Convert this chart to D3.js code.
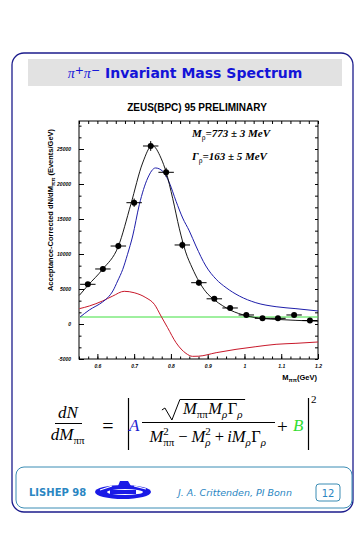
<!DOCTYPE html>
<html><head><meta charset="utf-8">
<script src="https://cdn.jsdelivr.net/npm/d3@7"></script>
<style>body{margin:0;background:#fff}svg{display:block}</style>
</head><body><svg id="c" width="363" height="535"></svg>
<script>
// ---------- data ----------
const massCenters   = [0.574,0.615,0.657,0.700,0.745,0.787,0.831,0.876,0.918,0.961,1.005,1.049,1.091,1.135,1.178];
const massHalfWidth = [0.021,0.021,0.021,0.021,0.021,0.021,0.021,0.021,0.021,0.021,0.021,0.021,0.021,0.021,0.021];
const events        = [5670,7860,11140,17330,25430,21670,11290,5900,3600,2290,1290,810,810,1290,500];
const eventErrors   = [300,350,450,600,700,650,550,400,300,250,220,220,220,250,250];

const fitMass   = [0.551,0.574,0.614,0.657,0.691,0.723,0.749,0.773,0.787,0.805,0.823,0.840,0.858,0.876,0.895,0.918,0.941,0.963,1.004,1.050,1.095,1.140,1.200];
const fitValues = [4100,5500,7800,11100,17100,23000,25500,23700,21700,17900,13600,10300,8000,6100,4600,3450,2600,1950,1200,780,640,520,400];

const resMass   = [0.553,0.578,0.614,0.628,0.642,0.655,0.669,0.682,0.696,0.714,0.737,0.758,0.778,0.796,0.814,0.832,0.850,0.868,0.895,0.923,0.950,0.986,1.031,1.086,1.140,1.200];
const resValues = [1000,2000,3140,3760,4710,6140,7810,9960,12570,17040,20860,22290,21810,20140,17530,15140,13300,11140,8290,6390,5190,4000,3040,2470,2190,1860];

const intMass   = [0.551,0.578,0.614,0.642,0.673,0.700,0.732,0.755,0.773,0.791,0.814,0.841,0.859,0.875,0.923,0.977,1.031,1.086,1.140,1.200];
const intValues = [2190,2570,3290,4000,4670,4470,3760,2810,1140,-530,-2670,-4200,-4620,-4600,-4100,-3620,-3240,-2900,-2760,-2570];

const bkgMass   = [0.553,1.200];
const bkgValues = [1000,1000];

const yMajor = [-5000,0,5000,10000,15000,20000,25000];
const yMajorLabels = ["-5000","0","5000","10000","15000","20000","25000"];
const xMajor = [0.6,0.7,0.8,0.9,1.0,1.1,1.2];
const xMajorLabels = ["0.6","0.7","0.8","0.9","1","1.1","1.2"];

// ---------- drawing ----------
const svg = d3.select("#c");
const NAVY = "#1c1c8c", TEAL = "#3a8cb4", FOOT = "#2a86c2";

// outer frame
svg.append("rect").attr("x",12).attr("y",53).attr("width",341).attr("height",459)
  .attr("rx",12).attr("fill","none").attr("stroke",NAVY).attr("stroke-width",1.3);

// title bar
svg.append("rect").attr("x",28).attr("y",59).attr("width",314).attr("height",27).attr("fill","#e2e2e2");
const tt = svg.append("text").attr("x",185).attr("y",78).attr("text-anchor","middle")
  .attr("fill","#1414d8").attr("font-family","'DejaVu Sans',Verdana,sans-serif").attr("font-weight","bold").attr("font-size",14);
tt.append("tspan").attr("font-family","'Liberation Serif',serif").attr("font-style","italic").attr("font-weight","normal").attr("font-size",14).text("π");
tt.append("tspan").attr("dy",-4).attr("font-size",11).attr("font-weight","normal").text("+");
tt.append("tspan").attr("dy",4).attr("font-family","'Liberation Serif',serif").attr("font-style","italic").attr("font-weight","normal").attr("font-size",14).text("π");
tt.append("tspan").attr("dy",-4).attr("font-size",11).attr("font-weight","normal").text("−");
tt.append("tspan").attr("dy",4).text(" Invariant Mass Spectrum");

// chart title
svg.append("text").attr("x",197).attr("y",111).attr("text-anchor","middle")
  .attr("font-family","'Liberation Sans',Arial,sans-serif").attr("font-weight","bold").attr("font-size",10)
  .text("ZEUS(BPC) 95 PRELIMINARY");

// scales
const x = d3.scaleLinear().domain([0.55,1.2]).range([79,318]);
const y = d3.scaleLinear().domain([-5000,29000]).range([359,121]);

const plot = svg.append("g");
plot.append("rect").attr("x",79).attr("y",121).attr("width",239).attr("height",238)
  .attr("fill","none").attr("stroke","#000").attr("stroke-width",1);

const minorY = d3.range(-5000, 29000, 5000/3);
const minorX = d3.range(0.55, 1.2001, 0.025);

function axisG(axis, tx, ty){
  const g = plot.append("g").attr("transform",`translate(${tx},${ty})`).call(axis);
  g.select(".domain").remove();
  g.selectAll("line").attr("stroke","#000");
  return g;
}
// left
const gl = axisG(d3.axisLeft(y).tickValues(yMajor).tickSizeInner(-5).tickSizeOuter(0).tickPadding(8)
  .tickFormat((d,i)=>yMajorLabels[i]), 79, 0);
gl.selectAll("text").attr("font-size",5).attr("font-weight","bold").attr("font-style","italic")
  .attr("font-family","'Liberation Sans',Arial,sans-serif");
axisG(d3.axisLeft(y).tickValues(minorY).tickSizeInner(-2.5).tickSizeOuter(0).tickFormat(""), 79, 0);
// right
axisG(d3.axisRight(y).tickValues(minorY).tickSizeInner(-3).tickSizeOuter(0).tickFormat(""), 318, 0);
// bottom
const gb = axisG(d3.axisBottom(x).tickValues(xMajor).tickSizeInner(-5).tickSizeOuter(0).tickPadding(5)
  .tickFormat((d,i)=>xMajorLabels[i]), 0, 359);
gb.selectAll("text").attr("font-size",5).attr("font-weight","bold").attr("font-style","italic")
  .attr("font-family","'Liberation Sans',Arial,sans-serif");
axisG(d3.axisBottom(x).tickValues(minorX).tickSizeInner(-2.5).tickSizeOuter(0).tickFormat(""), 0, 359);
// top
axisG(d3.axisTop(x).tickValues(minorX).tickSizeInner(-3).tickSizeOuter(0).tickFormat(""), 0, 121);

// curves
const line = d3.line().x(d=>x(d[0])).y(d=>y(d[1])).curve(d3.curveMonotoneX);
function drawCurve(ms, vs, color, w){
  plot.append("path").datum(ms.map((m,i)=>[m,vs[i]])).attr("d",line)
    .attr("fill","none").attr("stroke",color).attr("stroke-width",w);
}
drawCurve(bkgMass, bkgValues, "#3ee03e", 1);
drawCurve(intMass, intValues, "#c8182a", 1);
drawCurve(resMass, resValues, "#1e1eaa", 1);
drawCurve(fitMass, fitValues, "#000", 0.9);

// data points
const pts = plot.append("g");
massCenters.forEach((m,i)=>{
  pts.append("line").attr("x1",x(m-massHalfWidth[i])).attr("x2",x(m+massHalfWidth[i]))
    .attr("y1",y(events[i])).attr("y2",y(events[i])).attr("stroke","#000").attr("stroke-width",1);
  pts.append("line").attr("x1",x(m)).attr("x2",x(m))
    .attr("y1",y(events[i]-eventErrors[i])).attr("y2",y(events[i]+eventErrors[i])).attr("stroke","#000").attr("stroke-width",1);
  pts.append("circle").attr("cx",x(m)).attr("cy",y(events[i])).attr("r",3).attr("fill","#000");
});

// annotations
function annot(yb, sym, rest){
  const t = svg.append("text").attr("x",192).attr("y",yb)
    .attr("font-family","'Liberation Serif','Times New Roman',serif").attr("font-style","italic")
    .attr("font-weight","bold").attr("font-size",11);
  t.append("tspan").text(sym);
  t.append("tspan").attr("dy",3).attr("font-size",7.5).attr("font-style","normal").attr("font-weight","normal").text("ρ");
  t.append("tspan").attr("dy",-3).text(rest);
}
annot(137, "M", "=773 ± 3 MeV");
annot(160, "Γ", "=163 ± 5 MeV");

// axis labels
const yl = svg.append("text").attr("transform","translate(53,210) rotate(-90)").attr("text-anchor","middle")
  .attr("font-family","'Liberation Sans',Arial,sans-serif").attr("font-weight","bold").attr("font-size",7.5);
yl.append("tspan").text("Acceptance-Corrected dN/dM");
yl.append("tspan").attr("dy",2).attr("font-size",5.5).text("ππ");
yl.append("tspan").attr("dy",-2).text("  (Events/GeV)");
const xl = svg.append("text").attr("x",317).attr("y",380).attr("text-anchor","end")
  .attr("font-family","'Liberation Sans',Arial,sans-serif").attr("font-weight","bold").attr("font-size",7.5);
xl.append("tspan").text("M");
xl.append("tspan").attr("dy",2).attr("font-size",5.5).text("ππ");
xl.append("tspan").attr("dy",-2).text("(GeV)");

// ---------- equation ----------
const eq = svg.append("g").attr("font-family","'Liberation Serif','Times New Roman',serif");
const MAIN = 16.5, SUB = 11;
function row(g, x0, base, pieces){
  let cx = x0;
  pieces.forEach(p=>{
    if(p.sup!==undefined || p.sub!==undefined){
      let w = 0;
      if(p.sup!==undefined){
        const t = g.append("text").attr("x",cx).attr("y",base-7).attr("font-size",SUB).text(p.sup);
        w = Math.max(w, t.node().getComputedTextLength());
      }
      if(p.sub!==undefined){
        const t = g.append("text").attr("x",cx).attr("y",base+3.5).attr("font-size",SUB)
          .attr("font-style",p.subItalic?"italic":"normal").text(p.sub);
        w = Math.max(w, t.node().getComputedTextLength());
      }
      cx += w + (p.gap||0.5);
    } else {
      const t = g.append("text").attr("x",cx).attr("y",base+(p.dy||0)).attr("font-size",p.size||MAIN)
        .attr("font-style",p.italic?"italic":"normal").attr("font-weight",p.bold?"bold":"normal")
        .attr("fill",p.fill||"#000").text(p.t);
      cx += t.node().getComputedTextLength() + (p.gap||0);
    }
  });
  return cx - x0;
}
function centered(xc, base, pieces){
  const g = eq.append("g");
  const w = row(g, 0, base, pieces);
  g.attr("transform",`translate(${xc - w/2},0)`);
  return w;
}
// dN / dMππ
centered(68, 418, [{t:"dN", italic:true, size:17}]);
eq.append("line").attr("x1",55).attr("x2",82).attr("y1",423.5).attr("y2",423.5).attr("stroke","#000").attr("stroke-width",1);
centered(68, 440, [{t:"dM", italic:true, size:17},{sub:"ππ"}]);
eq.append("text").attr("x",108).attr("y",433).attr("text-anchor","middle").attr("font-size",20).text("=");
// absolute bars
eq.append("line").attr("x1",128.5).attr("x2",128.5).attr("y1",398).attr("y2",450).attr("stroke","#000").attr("stroke-width",1.2);
eq.append("line").attr("x1",308.5).attr("x2",308.5).attr("y1",398).attr("y2",450).attr("stroke","#000").attr("stroke-width",1.2);
eq.append("text").attr("x",311).attr("y",403).attr("font-size",11).text("2");
// A
eq.append("text").attr("x",129).attr("y",431).attr("font-size",17).attr("font-style","italic").attr("fill","#2020d0").text("A");
// numerator
const numW = centered(213, 414, [{t:"M", italic:true},{sub:"ππ"},{t:"M", italic:true},{sub:"ρ", subItalic:true},{t:"Γ"},{sub:"ρ", subItalic:true}]);
const nx0 = 213 - numW/2 - 2;
eq.append("path").attr("d",`M${nx0-19},${410} L${nx0-16},${408} L${nx0-9},${420} L${nx0-1},${399.5} L${213+numW/2+2},${399.5}`)
  .attr("fill","none").attr("stroke","#000").attr("stroke-width",1);
eq.append("line").attr("x1",142).attr("x2",275).attr("y1",422.5).attr("y2",422.5).attr("stroke","#000").attr("stroke-width",1);
// denominator
centered(208, 442, [{t:"M", italic:true},{sup:"2", sub:"ππ", gap:4},{t:"−", gap:4},{t:"M", italic:true},{sup:"2", sub:"ρ", subItalic:true, gap:4},
  {t:"+", gap:3},{t:"iM", italic:true},{sub:"ρ", subItalic:true},{t:"Γ"},{sub:"ρ", subItalic:true}]);
eq.append("text").attr("x",277).attr("y",433).attr("font-size",19).text("+");
eq.append("text").attr("x",293).attr("y",431).attr("font-size",17).attr("font-style","italic").attr("fill","#33dd33").text("B");

// ---------- footer ----------
svg.append("rect").attr("x",16).attr("y",467).attr("width",336).attr("height",41).attr("rx",8)
  .attr("fill","none").attr("stroke",TEAL).attr("stroke-width",1);
svg.append("text").attr("x",29).attr("y",496).attr("font-family","'DejaVu Sans',Verdana,sans-serif")
  .attr("font-weight","bold").attr("font-size",10).attr("fill",FOOT).text("LISHEP 98");
// logo
const logo = svg.append("g").attr("fill","#1a1ae6");
logo.append("ellipse").attr("cx",123).attr("cy",492).attr("rx",28).attr("ry",7);
logo.append("path").attr("d","M118,486 L120,481 L128,481 L131,486 Z");
logo.append("ellipse").attr("cx",125).attr("cy",492).attr("rx",18).attr("ry",3).attr("fill","#fff");
logo.append("path").attr("d","M100,490 L112,486 M134,486 L146,489").attr("stroke","#fff").attr("stroke-width",1.2).attr("fill","none");
logo.append("rect").attr("x",110).attr("y",490).attr("width",26).attr("height",4);
svg.append("text").attr("x",178).attr("y",496).attr("font-family","'DejaVu Sans',Verdana,sans-serif")
  .attr("font-style","italic").attr("font-size",9.5).attr("fill",FOOT).text("J. A. Crittenden, PI Bonn");
svg.append("rect").attr("x",316).attr("y",484).attr("width",24).attr("height",17).attr("rx",3)
  .attr("fill","none").attr("stroke",TEAL).attr("stroke-width",1);
svg.append("text").attr("x",328).attr("y",496.5).attr("text-anchor","middle").attr("font-family","'DejaVu Sans',Verdana,sans-serif")
  .attr("font-size",10).attr("fill",FOOT).text("12");
</script></body></html>
